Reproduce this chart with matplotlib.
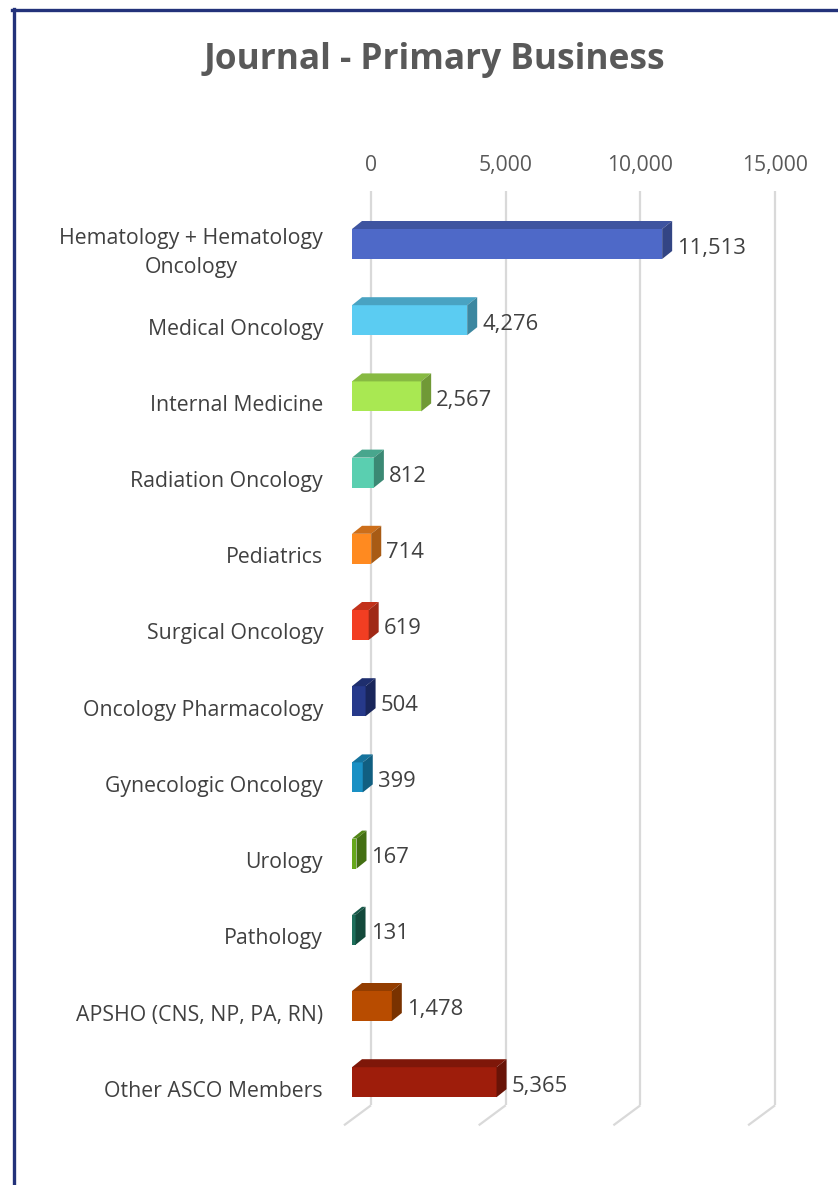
import matplotlib
matplotlib.use("Agg")
import matplotlib.pyplot as plt
from matplotlib.patches import Polygon
from matplotlib.lines import Line2D
from matplotlib.colors import to_rgb
import numpy as np

# ---------------- data ----------------
categories = [
    "Hematology + Hematology\nOncology",
    "Medical Oncology",
    "Internal Medicine",
    "Radiation Oncology",
    "Pediatrics",
    "Surgical Oncology",
    "Oncology Pharmacology",
    "Gynecologic Oncology",
    "Urology",
    "Pathology",
    "APSHO (CNS, NP, PA, RN)",
    "Other ASCO Members",
]
values = [11513, 4276, 2567, 812, 714, 619, 504, 399, 167, 131, 1478, 5365]
tick_values = [0, 5000, 10000, 15000]
title = "Journal - Primary Business"

front_colors = [
    "#4E69C8", "#5BCCF2", "#A9E852", "#5ACFB0", "#FF8A20", "#F23E22",
    "#26398A", "#1A90C4", "#66A81C", "#1D6E5A", "#B84C00", "#9E1D0B",
]

FONT = "Open Sans"
plt.rcParams["font.family"] = [FONT, "DejaVu Sans"]

W, H = 838, 1185
fig = plt.figure(figsize=(W / 100, H / 100), dpi=100)
fig.patch.set_facecolor("white")


def fx(px):
    return px / W


def fy(py):
    return 1 - py / H


# axes box (pixels)
L, R, T, B = 330, 815, 130, 1150
ax = fig.add_axes([fx(L), fy(B), (R - L) / W, (B - T) / H])
sx = 134.7 / 5000.0   # px per unit value
x0_front = 352        # px of zero on the bars' front plane
cy0, cyd = 244, 76.2  # px of first category centre, px per category
ax.set_xlim((L - x0_front) / sx, (R - x0_front) / sx)
ax.set_ylim((B - cy0) / cyd, (T - cy0) / cyd)
ax.axis("off")


def dxu(px):
    return px / sx


def dyu(px):
    return px / cyd


n = len(categories)
idx = np.arange(n)

# back wall / floor offsets
bx, by = dxu(19), dyu(-15)
fdx, fdy = dxu(-8), dyu(5)
grid_c = "#D9D9D9"
for v in tick_values:
    ax.plot([v + bx, v + bx], [-0.5 + by, n - 0.5 + by], color=grid_c,
            lw=1.6, zorder=1, solid_capstyle="butt")
    ax.plot([v + bx, v + fdx], [n - 0.5 + by, n - 0.5 + fdy], color=grid_c,
            lw=1.6, zorder=1, solid_capstyle="butt")
    ax.text(v + bx, dyu(165 - cy0), f"{v:,}", ha="center", va="center",
            fontsize=15.2, color="#595959")

# 3D bars
h = 30 / cyd
ddx, ddy = dxu(10), dyu(-8)


def shade(c, f):
    r, g, b = to_rgb(c)
    return (r * f, g * f, b * f)


ax.barh(idx, values, height=h, color=front_colors, zorder=3, linewidth=0)
for i, (v, c) in enumerate(zip(values, front_colors)):
    top = i - h / 2
    bot = i + h / 2
    ax.add_patch(Polygon([(0, top), (v, top), (v + ddx, top + ddy), (ddx, top + ddy)],
                         closed=True, facecolor=shade(c, 0.80), edgecolor="none", zorder=3))
    ax.add_patch(Polygon([(v, top), (v + ddx, top + ddy), (v + ddx, bot + ddy), (v, bot)],
                         closed=True, facecolor=shade(c, 0.66), edgecolor="none", zorder=3))
    ax.text(v + ddx + dxu(5), i + dyu(4), f"{v:,}", ha="left", va="center",
            fontsize=15.8, color="#404040", zorder=4)
    ax.text(dxu(-29), i + dyu(9), categories[i], ha="right", va="center",
            multialignment="center", fontsize=15.3, color="#404040",
            linespacing=1.55)

# title
fig.text(fx(434), fy(60), title, ha="center", va="center", fontsize=25.4,
         fontweight="bold", color="#595959")

# outer border (left and top)
bc = "#23327A"
fig.add_artist(Line2D([fx(13.5), fx(13.5)], [fy(9), fy(H + 5)], color=bc, lw=2.4,
                      transform=fig.transFigure))
fig.add_artist(Line2D([fx(12.3), fx(W + 5)], [fy(9.5), fy(9.5)], color=bc, lw=2.4,
                      transform=fig.transFigure))

fig.savefig("out.png", dpi=100, facecolor="white")
